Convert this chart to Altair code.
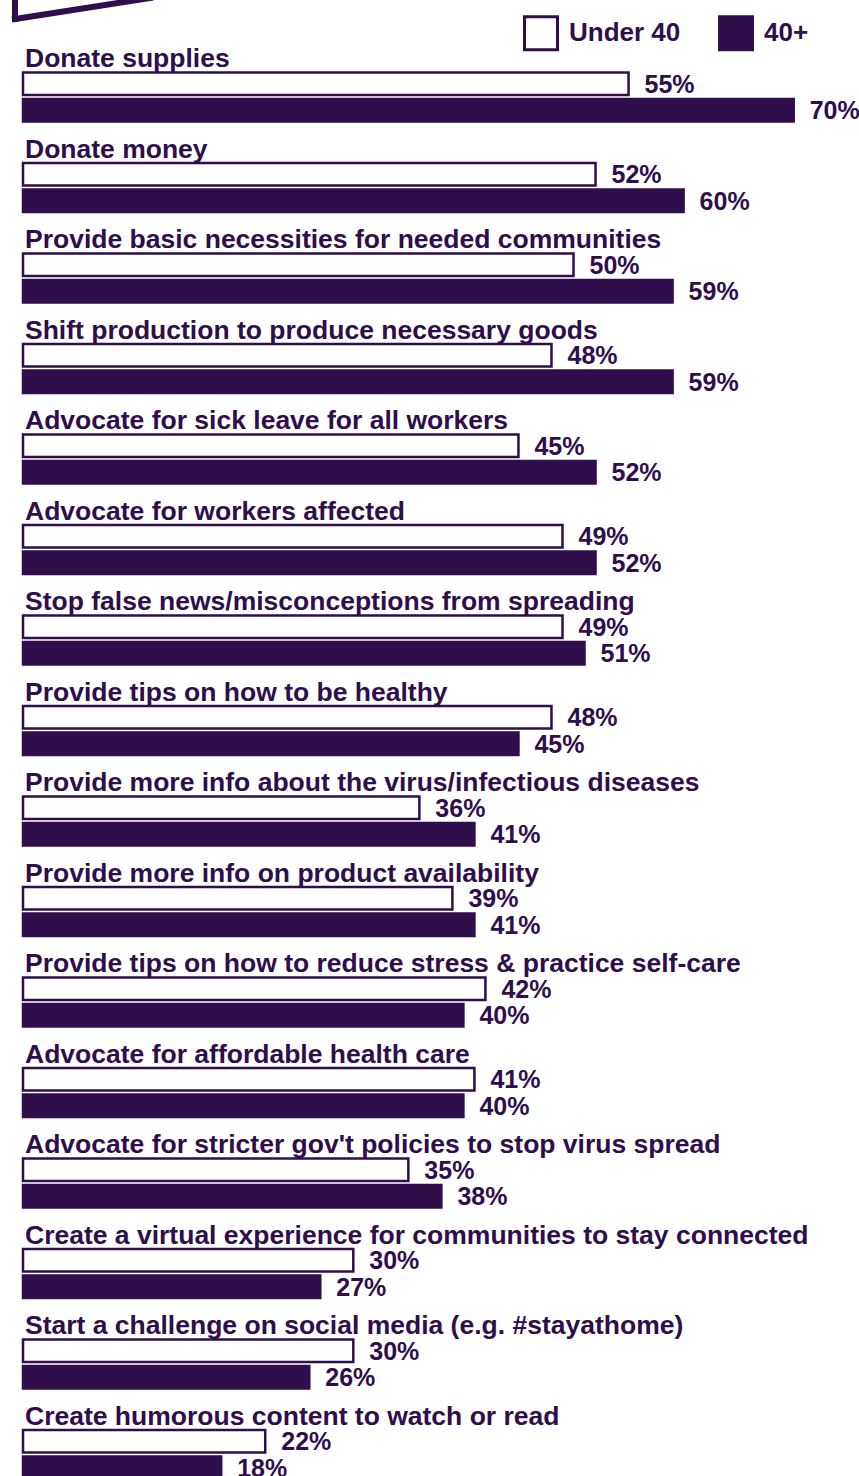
import altair as alt
import pandas as pd

categories = [
    "Donate supplies",
    "Donate money",
    "Provide basic necessities for needed communities",
    "Shift production to produce necessary goods",
    "Advocate for sick leave for all workers",
    "Advocate for workers affected",
    "Stop false news/misconceptions from spreading",
    "Provide tips on how to be healthy",
    "Provide more info about the virus/infectious diseases",
    "Provide more info on product availability",
    "Provide tips on how to reduce stress & practice self-care",
    "Advocate for affordable health care",
    "Advocate for stricter gov't policies to stop virus spread",
    "Create a virtual experience for communities to stay connected",
    "Start a challenge on social media (e.g. #stayathome)",
    "Create humorous content to watch or read",
]
under40 = [55, 52, 50, 48, 45, 49, 49, 48, 36, 39, 42, 41, 35, 30, 30, 22]
over40 = [70, 60, 59, 59, 52, 52, 51, 45, 41, 41, 40, 40, 38, 27, 26, 18]
series = ["Under 40", "40+"]

C = "#2e0e4b"
FONT = "Liberation Sans"

rows = []
for c, a, b in zip(categories, under40, over40):
    rows.append({"cat": c, "series": series[0], "value": a, "label": f"{a}%"})
    rows.append({"cat": c, "series": series[1], "value": b, "label": f"{b}%"})
df = pd.DataFrame(rows)
cats_df = pd.DataFrame({"cat": categories})

yscale = alt.Scale(domain=categories, paddingInner=0, paddingOuter=0)
offscale = alt.Scale(domain=series, range=[44.5, 93.5], paddingInner=0.15, paddingOuter=0)
xscale = alt.Scale(domain=[0, 75.93], nice=False, zero=True)

base = alt.Chart(df)

bars = base.mark_bar(stroke=C, strokeWidth=2.5).encode(
    x=alt.X("value:Q", scale=xscale, axis=None),
    y=alt.Y("cat:N", scale=yscale, axis=None),
    yOffset=alt.YOffset("series:N", scale=offscale),
    fill=alt.Fill(
        "series:N",
        scale=alt.Scale(domain=series, range=["#ffffff", C]),
        legend=alt.Legend(
            orient="none",
            legendX=500,
            legendY=-13,
            direction="horizontal",
            title=None,
            symbolType="square",
            symbolSize=1089,
            symbolStrokeColor=C,
            symbolStrokeWidth=3,
            labelFont=FONT,
            labelFontWeight="bold",
            labelFontSize=26,
            labelColor=C,
            labelOffset=10,
            columnPadding=32,
            padding=0,
        ),
    ),
)

pct = base.mark_text(
    align="left", baseline="middle", dx=16, dy=1,
    font=FONT, fontWeight="bold", fontSize=25, color=C,
).encode(
    x=alt.X("value:Q", scale=xscale, axis=None),
    y=alt.Y("cat:N", scale=yscale, axis=None),
    yOffset=alt.YOffset("series:N", scale=offscale),
    text="label:N",
)

names = alt.Chart(cats_df).mark_text(
    align="left", baseline="alphabetic", dy=39,
    font=FONT, fontWeight="bold", fontSize=26.5, color=C,
).encode(
    x=alt.value(2),
    y=alt.Y("cat:N", scale=yscale, axis=None, bandPosition=0),
    text="cat:N",
)

deco_df = pd.DataFrame({"d": [0]})
deco_v = alt.Chart(deco_df).mark_rule(color=C, strokeWidth=6, strokeCap="square").encode(
    x=alt.value(-8), y=alt.value(-30), y2=alt.value(-9)
)
deco_s = alt.Chart(deco_df).mark_rule(color=C, strokeWidth=6, strokeCap="square").encode(
    x=alt.value(-8), x2=alt.value(127), y=alt.value(-9), y2=alt.value(-30)
)

chart = alt.layer(bars, pct, names, deco_v, deco_s).properties(
    width=836,
    height=1448,
    autosize=alt.AutoSizeParams(type="none"),
    padding={"left": 23, "top": 28, "right": 0, "bottom": 0},
    background="white",
).configure_view(stroke=None)

chart.save("out.html", embed_options={"renderer": "svg", "actions": False})
